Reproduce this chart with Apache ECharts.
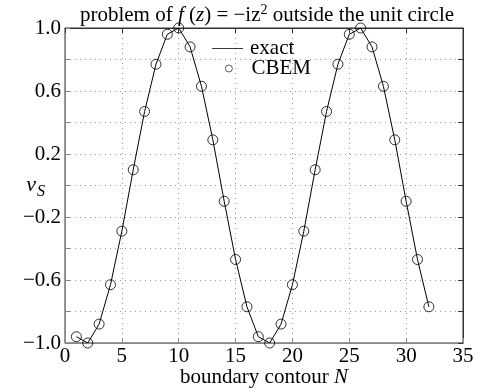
<!DOCTYPE html>
<html><head><meta charset="utf-8">
<script src="https://cdn.jsdelivr.net/npm/echarts@6/dist/echarts.min.js"></script>
<style>html,body{margin:0;padding:0;background:#fff}#c{width:485px;height:388px}</style>
</head><body><div id="c"></div>
<script>
var nodes = [1,2,3,4,5,6,7,8,9,10,11,12,13,14,15,16,17,18,19,20,21,22,23,24,25,26,27,28,29,30,31,32];
var exactValues = [-0.96,-1.00,-0.88,-0.63,-0.29,0.10,0.47,0.77,0.96,1.00,0.88,0.63,0.29,-0.10,-0.47,-0.77,-0.96,-1.00,-0.88,-0.63,-0.29,0.10,0.47,0.77,0.96,1.00,0.88,0.63,0.29,-0.10,-0.47,-0.77];
var cbemValues = [-0.96,-1.00,-0.88,-0.63,-0.29,0.10,0.47,0.77,0.96,1.00,0.88,0.63,0.29,-0.10,-0.47,-0.77,-0.96,-1.00,-0.88,-0.63,-0.29,0.10,0.47,0.77,0.96,1.00,0.88,0.63,0.29,-0.10,-0.47,-0.77];
var yLabels = ['-1.0','-0.6','-0.2','0.2','0.6','1.0'];

var FONT = '"Liberation Serif","Times New Roman",serif';
var FS = 21;
function pairs(xs, ys){ return xs.map(function(x,i){return [x, ys[i]];}); }

var chart = echarts.init(document.getElementById('c'), null, {renderer:'canvas'});
var tickGray = {show:true, inside:true, length:5, lineStyle:{color:'#888', width:1}};
var tickDark = {show:true, inside:true, length:5, lineStyle:{color:'#333', width:1}};
chart.setOption({
  animation:false,
  backgroundColor:'#fff',
  title:{
    text:'problem of {i|f} ({i|z}) = −iz{sup|2} outside the unit circle',
    left:262, top:-2, textAlign:'center',
    textStyle:{fontFamily:FONT, fontSize:FS, fontWeight:'normal', color:'#000',
      rich:{i:{fontFamily:FONT, fontSize:FS, fontStyle:'italic', color:'#000'},
            sup:{fontFamily:FONT, fontSize:14, color:'#000', verticalAlign:'top', padding:[0,0,10,0]}}}
  },
  legend:[{
    left:207, top:33, itemWidth:31, itemHeight:21,
    textStyle:{fontFamily:FONT, fontSize:FS, color:'#000', padding:[0,0,0,2]},
    data:[{name:'exact', icon:'path://M0,10L40,10L40,11L0,11Z'}]
  },{
    left:220, top:53, itemWidth:7, itemHeight:7,
    itemStyle:{borderWidth:0.8},
    textStyle:{fontFamily:FONT, fontSize:FS, color:'#000', padding:[0,0,0,14]},
    data:[{name:'CBEM', icon:'circle', itemStyle:{color:'rgba(0,0,0,0)', borderColor:'#000', borderWidth:0.8}}]
  }],
  grid:{left:65, right:22, top:28, bottom:45, show:true, borderColor:'#333', borderWidth:1, outerBoundsMode:'none', containLabel:false},
  xAxis:[{
    type:'value', min:0, max:35, interval:5,
    axisLine:{show:true, onZero:false, lineStyle:{color:'#888'}},
    axisTick:tickGray,
    axisLabel:{fontFamily:FONT, fontSize:FS, color:'#000', margin:3},
    splitLine:{show:true, lineStyle:{color:'#999', type:[1,4], width:1}},
    name:'boundary contour {i|N}', nameLocation:'middle', nameGap:24, nameMoveOverlap:false,
    nameTextStyle:{fontFamily:FONT, fontSize:FS, color:'#000', rich:{i:{fontFamily:FONT, fontSize:FS, fontStyle:'italic', color:'#000'}}}
  },{
    type:'value', position:'top', min:0, max:35, interval:5,
    axisLine:{show:true, onZero:false, lineStyle:{color:'#333'}}, axisTick:tickDark, axisLabel:{show:false}, splitLine:{show:false}
  }],
  yAxis:[{
    type:'value', min:-1, max:1, interval:0.2,
    axisLine:{show:true, onZero:false, lineStyle:{color:'#888'}},
    axisTick:tickGray,
    axisLabel:{fontFamily:FONT, fontSize:FS, color:'#000', margin:4,
      formatter:function(v){
        var s = v.toFixed(1);
        if (s === '-0.0') s = '0.0';
        return yLabels.indexOf(s) >= 0 ? s.replace('-', '−') : '';
      }},
    splitLine:{show:true, lineStyle:{color:'#999', type:[1,4], width:1}},
    name:'{v|v}{s|S}', nameLocation:'middle', nameGap:20, nameRotate:0, nameMoveOverlap:false,
    nameTextStyle:{rich:{v:{fontFamily:FONT, fontSize:22, fontStyle:'italic', color:'#000'},
                         s:{fontFamily:FONT, fontSize:16, fontStyle:'italic', color:'#000', verticalAlign:'bottom', padding:[12,0,0,1]}}}
  },{
    type:'value', position:'right', min:-1, max:1, interval:0.2,
    axisLine:{show:true, onZero:false, lineStyle:{color:'#333'}}, axisTick:tickDark, axisLabel:{show:false}, splitLine:{show:false}
  }],
  series:[{
    name:'exact', type:'line', data:pairs(nodes, exactValues), showSymbol:false, symbol:'none',
    lineStyle:{color:'#000', width:1}, itemStyle:{color:'#000'}
  },{
    name:'CBEM', type:'scatter', data:pairs(nodes, cbemValues), symbol:'circle', symbolSize:10,
    itemStyle:{color:'rgba(0,0,0,0)', borderColor:'#000', borderWidth:1}
  }]
});
</script></body></html>
